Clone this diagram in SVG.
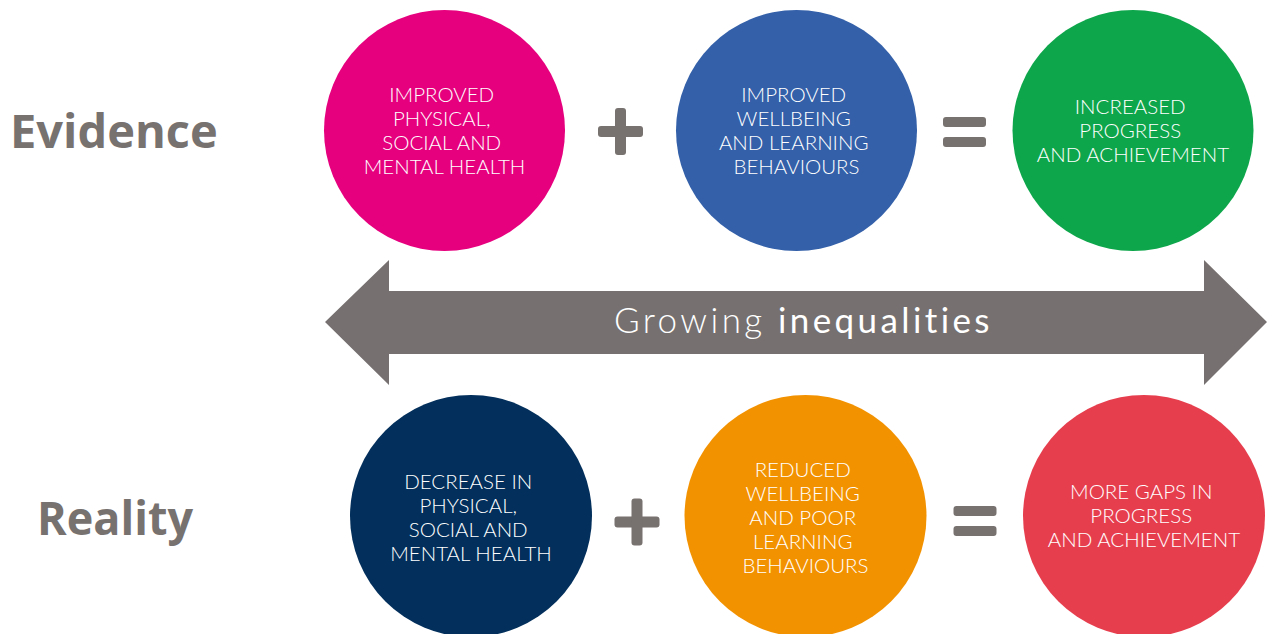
<svg xmlns="http://www.w3.org/2000/svg" width="1268" height="634" viewBox="0 0 1268 634">
  <style>
    .row-label { font-family: "Open Sans", "Liberation Sans", sans-serif; font-weight: 700; font-size: 47px; fill: #77716f; }
    .node-text { font-family: Lato, "Open Sans", "Liberation Sans", sans-serif; font-weight: 300; font-size: 20.5px; fill: #ffffff; text-anchor: middle; }
    .op { fill: #77716f; }
    .band { fill: #767170; }
    .band-text { font-family: Lato, "Open Sans", "Liberation Sans", sans-serif; font-size: 35px; letter-spacing: 3.4px; fill: #ffffff; }
  </style>
  <defs>
    <g id="plus">
      <rect x="-22.5" y="-5.5" width="45" height="11" rx="3"/>
      <rect x="-5.5" y="-23.5" width="11" height="47" rx="3"/>
    </g>
    <g id="equals">
      <rect x="-21.5" y="-15" width="43" height="10" rx="3"/>
      <rect x="-21.5" y="5" width="43" height="10" rx="3"/>
    </g>
  </defs>

  <rect width="1268" height="634" fill="#ffffff"/>

  <!-- row labels -->
  <text class="row-label" x="10" y="148">Evidence</text>
  <text class="row-label" x="37" y="535" textLength="156" lengthAdjust="spacingAndGlyphs">Reality</text>

  <!-- double-headed band between the rows, plus the operators -->
  <g id="connectors">
    <path class="band" d="M325 322 L389 260 L389 291 L1204 291 L1204 260 L1267 322 L1204 385 L1204 354 L389 354 L389 385 Z"/>
    <text class="band-text" x="614" y="333"><tspan font-weight="300">Growing</tspan> <tspan font-weight="400">inequalities</tspan></text>
    <use href="#plus" class="op" x="620.5" y="131.5"/>
    <use href="#equals" class="op" x="964.5" y="132"/>
    <use href="#plus" class="op" x="637" y="522"/>
    <use href="#equals" class="op" x="975" y="521"/>
  </g>

  <!-- evidence row -->
  <g id="node-health">
    <circle cx="444.5" cy="130.5" r="120.5" fill="#e6007e"/>
    <text class="node-text">
      <tspan x="444.5" y="102">IMPROVED</tspan>
      <tspan x="444.5" y="126">PHYSICAL,</tspan>
      <tspan x="444.5" y="150">SOCIAL AND</tspan>
      <tspan x="444.5" y="174">MENTAL HEALTH</tspan>
    </text>
  </g>
  <g id="node-wellbeing">
    <circle cx="796.5" cy="130.5" r="120.5" fill="#3360a9"/>
    <text class="node-text">
      <tspan x="796.5" y="102">IMPROVED</tspan>
      <tspan x="796.5" y="126">WELLBEING</tspan>
      <tspan x="796.5" y="150">AND LEARNING</tspan>
      <tspan x="796.5" y="174">BEHAVIOURS</tspan>
    </text>
  </g>
  <g id="node-progress">
    <circle cx="1133" cy="130.5" r="120.5" fill="#0ea64b"/>
    <text class="node-text">
      <tspan x="1133" y="114">INCREASED</tspan>
      <tspan x="1133" y="138">PROGRESS</tspan>
      <tspan x="1133" y="162">AND ACHIEVEMENT</tspan>
    </text>
  </g>

  <!-- reality row -->
  <g id="node-decrease">
    <circle cx="471" cy="516" r="121" fill="#022f5b"/>
    <text class="node-text">
      <tspan x="471" y="489">DECREASE IN</tspan>
      <tspan x="471" y="513">PHYSICAL,</tspan>
      <tspan x="471" y="537">SOCIAL AND</tspan>
      <tspan x="471" y="561">MENTAL HEALTH</tspan>
    </text>
  </g>
  <g id="node-reduced">
    <circle cx="805.5" cy="516" r="121" fill="#f39200"/>
    <text class="node-text">
      <tspan x="805.5" y="477">REDUCED</tspan>
      <tspan x="805.5" y="501">WELLBEING</tspan>
      <tspan x="805.5" y="525">AND POOR</tspan>
      <tspan x="805.5" y="549">LEARNING</tspan>
      <tspan x="805.5" y="573">BEHAVIOURS</tspan>
    </text>
  </g>
  <g id="node-gaps">
    <circle cx="1144" cy="516" r="121" fill="#e73e4e"/>
    <text class="node-text">
      <tspan x="1144" y="499">MORE GAPS IN</tspan>
      <tspan x="1144" y="523">PROGRESS</tspan>
      <tspan x="1144" y="547">AND ACHIEVEMENT</tspan>
    </text>
  </g>
</svg>
